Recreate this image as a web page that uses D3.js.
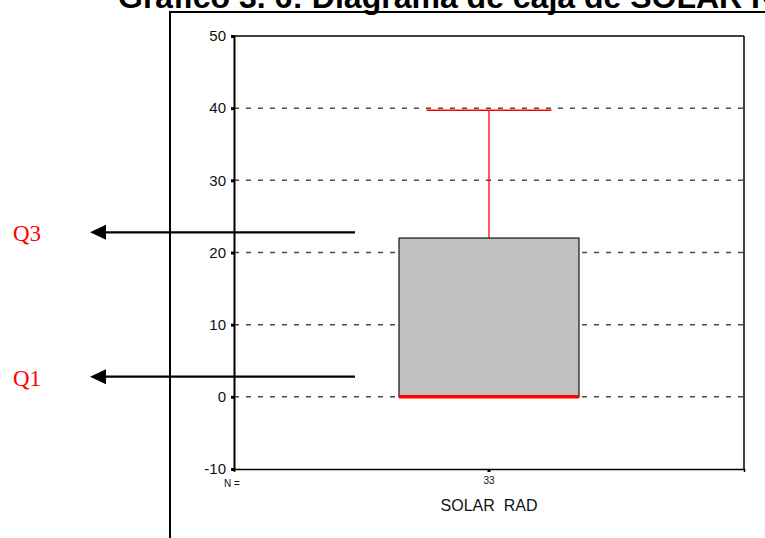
<!DOCTYPE html>
<html>
<head>
<meta charset="utf-8">
<script src="https://cdn.jsdelivr.net/npm/d3@7"></script>
<style>
  html, body { margin: 0; padding: 0; background: #fff; }
  svg { display: block; }
</style>
</head>
<body>
<svg id="chart" width="765" height="538"></svg>
<script>
// ---- data ----
const titleText = "Gráfico 3. 6: Diagrama de caja de SOLAR RAD";
const categories = ["SOLAR\u00a0\u00a0RAD"];
const counts = [33];
const whiskerLow = [0];
const q1 = [0];
const median = [0];
const q3 = [22];
const whiskerHigh = [39.7];
const yTicks = [-10, 0, 10, 20, 30, 40, 50];
const gridTicks = [0, 10, 20, 30, 40];
const annotationLabels = ["Q3", "Q1"];
const annotationValues = [22.8, 2.8];

// ---- layout ----
const svg = d3.select("#chart");
const plot = { left: 234, right: 744, top: 36, bottom: 469 };

const y = d3.scaleLinear().domain([-10, 50]).range([plot.bottom, plot.top]);
const x = d3.scaleBand().domain(categories).range([plot.left, plot.right]).padding(0);

// title (clipped at top in the reference)
svg.append("text")
  .attr("x", 118).attr("y", 8)
  .attr("font-family", "Liberation Sans, Arial, sans-serif")
  .attr("font-weight", "bold")
  .attr("font-size", 32)
  .attr("fill", "#000")
  .text(titleText);

// outer frame
svg.append("line").attr("x1", 170).attr("x2", 766).attr("y1", 12).attr("y2", 12)
  .attr("stroke", "#000").attr("stroke-width", 2);
svg.append("line").attr("x1", 170).attr("x2", 170).attr("y1", 11).attr("y2", 540)
  .attr("stroke", "#000").attr("stroke-width", 2);

// gridlines
svg.append("g").selectAll("line").data(gridTicks).join("line")
  .attr("x1", plot.left).attr("x2", plot.right)
  .attr("y1", d => y(d)).attr("y2", d => y(d))
  .attr("stroke", "#4a4a4a").attr("stroke-width", 1.5)
  .attr("stroke-dasharray", "5,7");

// plot border (top & right)
svg.append("line").attr("x1", plot.left).attr("x2", plot.right)
  .attr("y1", plot.top).attr("y2", plot.top).attr("stroke", "#000").attr("stroke-width", 1.5);
svg.append("line").attr("x1", plot.right).attr("x2", plot.right)
  .attr("y1", plot.top).attr("y2", plot.bottom).attr("stroke", "#000").attr("stroke-width", 1.5);

// y axis
const yAxis = svg.append("g").attr("transform", `translate(${plot.left},0)`)
  .call(d3.axisLeft(y).tickValues(yTicks).tickSize(3).tickPadding(5).tickFormat(d => String(d)));
yAxis.select(".domain").attr("stroke", "#000").attr("stroke-width", 2);
yAxis.selectAll(".tick line").attr("stroke", "#000").attr("stroke-width", 3);
yAxis.selectAll(".tick text")
  .attr("font-family", "Liberation Sans, Arial, sans-serif")
  .attr("font-size", 15).attr("fill", "#111");

// x axis
const xAxis = svg.append("g").attr("transform", `translate(0,${plot.bottom})`)
  .call(d3.axisBottom(x).tickSize(3).tickFormat((d, i) => counts[i]).tickPadding(5));
xAxis.select(".domain").attr("stroke", "#000").attr("stroke-width", 1.5);
xAxis.selectAll(".tick line").attr("stroke", "#000").attr("stroke-width", 3);
xAxis.selectAll(".tick text")
  .attr("font-family", "Liberation Sans, Arial, sans-serif")
  .attr("font-size", 10).attr("fill", "#111");

svg.append("text").attr("x", 232).attr("y", 487)
  .attr("text-anchor", "middle")
  .attr("font-family", "Liberation Sans, Arial, sans-serif")
  .attr("font-size", 10).attr("fill", "#111").text("N =");

svg.selectAll(".cat-label").data(categories).join("text")
  .attr("class", "cat-label")
  .attr("x", d => x(d) + x.bandwidth() / 2).attr("y", 511)
  .attr("text-anchor", "middle")
  .attr("font-family", "Liberation Sans, Arial, sans-serif")
  .attr("font-size", 16).attr("fill", "#111").text(d => d);

// box plot
const boxW = 180, capW = 125;
const g = svg.append("g");
categories.forEach((c, i) => {
  const cx = x(c) + x.bandwidth() / 2;
  g.append("line").attr("x1", cx).attr("x2", cx)
    .attr("y1", y(q3[i])).attr("y2", y(whiskerHigh[i]))
    .attr("stroke", "#ff0000").attr("stroke-width", 1.3);
  g.append("line").attr("x1", cx - capW / 2).attr("x2", cx + capW / 2)
    .attr("y1", y(whiskerHigh[i])).attr("y2", y(whiskerHigh[i]))
    .attr("stroke", "#ff0000").attr("stroke-width", 1.5);
  g.append("line").attr("x1", cx).attr("x2", cx)
    .attr("y1", y(q1[i])).attr("y2", y(whiskerLow[i]))
    .attr("stroke", "#ff0000").attr("stroke-width", 1.3);
  g.append("rect").attr("x", cx - boxW / 2).attr("width", boxW)
    .attr("y", y(q3[i])).attr("height", y(q1[i]) - y(q3[i]))
    .attr("fill", "#c0c0c0").attr("stroke", "#222").attr("stroke-width", 1.3);
  g.append("line").attr("x1", cx - boxW / 2).attr("x2", cx + boxW / 2)
    .attr("y1", y(median[i])).attr("y2", y(median[i]))
    .attr("stroke", "#ff0000").attr("stroke-width", 3.5);
});

// annotations
const ann = svg.append("g");
annotationLabels.forEach((lab, i) => {
  const yy = y(annotationValues[i]);
  ann.append("line").attr("x1", 355).attr("x2", 100)
    .attr("y1", yy).attr("y2", yy)
    .attr("stroke", "#000").attr("stroke-width", 2.2);
  ann.append("path")
    .attr("d", `M90,${yy} L106,${yy - 7.5} L106,${yy + 7.5} Z`)
    .attr("fill", "#000");
  ann.append("text").attr("x", 13).attr("y", yy + 9)
    .attr("font-family", "Liberation Serif, Times New Roman, serif")
    .attr("font-size", 23).attr("fill", "#ff0000").text(lab);
});
</script>
</body>
</html>
